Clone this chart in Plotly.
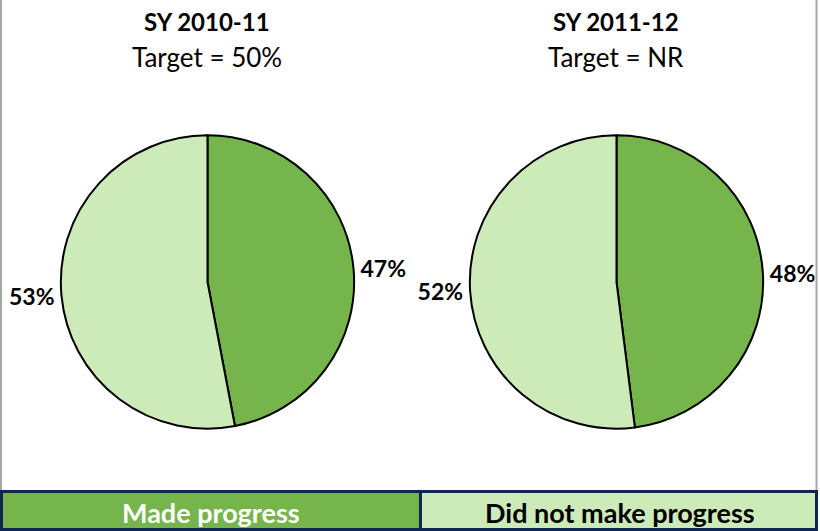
import plotly.graph_objects as go

# Share of students by progress status, per school year
years = ["SY 2010-11", "SY 2011-12"]
targets = ["Target = 50%", "Target = NR"]
categories = ["Made progress", "Did not make progress"]
made_progress = [47, 48]
not_made_progress = [53, 52]

dark_green = "#76B54C"
light_green = "#CCEBB8"
navy = "#0F2552"
frame_gray = "#A6A6A6"
font_family = "Lato, 'Open Sans', sans-serif"

W, H = 820, 531

fig = go.Figure()

centers_x = [208, 618]
radius = 147
center_y = 282

for i, yr in enumerate(years):
    cx = centers_x[i]
    vals = [made_progress[i], not_made_progress[i]]
    fig.add_trace(go.Pie(
        labels=categories,
        values=vals,
        sort=False,
        direction="clockwise",
        rotation=0,
        marker=dict(colors=[dark_green, light_green], line=dict(color="black", width=2)),
        texttemplate="%{value}%",
        textposition="outside",
        textfont=dict(family=font_family, size=23, color="black", weight="bold"),
        hoverinfo="label+value",
        showlegend=False,
        domain=dict(
            x=[(cx - radius) / W, (cx + radius) / W],
            y=[(H - center_y - radius) / H, (H - center_y + radius) / H],
        ),
    ))
    fig.add_annotation(
        x=cx / W, y=1 - 22 / H, xref="paper", yref="paper",
        text=f"<b>{yr}</b>", showarrow=False,
        font=dict(family=font_family, size=24, color="black"),
        xanchor="center", yanchor="middle",
    )
    fig.add_annotation(
        x=cx / W, y=1 - 57 / H, xref="paper", yref="paper",
        text=targets[i], showarrow=False,
        font=dict(family=font_family, size=26, color="black"),
        xanchor="center", yanchor="middle",
    )

legend_top = 491.5
divider_x = 421.5
shapes = [
    # side rules of the chart area
    dict(type="line", xref="paper", yref="paper", x0=1 / W, x1=1 / W,
         y0=1 - legend_top / H, y1=1, line=dict(color=frame_gray, width=2)),
    dict(type="line", xref="paper", yref="paper", x0=1 - 1.5 / W, x1=1 - 1.5 / W,
         y0=1 - legend_top / H, y1=1, line=dict(color=frame_gray, width=2)),
    # legend boxes
    dict(type="rect", xref="paper", yref="paper", x0=1.5 / W, x1=divider_x / W,
         y0=1.5 / H, y1=1 - legend_top / H, fillcolor=dark_green,
         line=dict(color=navy, width=3)),
    dict(type="rect", xref="paper", yref="paper", x0=divider_x / W, x1=1 - 1.5 / W,
         y0=1.5 / H, y1=1 - legend_top / H, fillcolor=light_green,
         line=dict(color=navy, width=3)),
]
fig.update_layout(shapes=shapes)

fig.add_annotation(x=212 / W, y=1 - 512 / H, xref="paper", yref="paper",
                   text=f"<b>{categories[0]}</b>", showarrow=False,
                   xanchor="center", yanchor="middle",
                   font=dict(family=font_family, size=27, color="white"))
fig.add_annotation(x=622 / W, y=1 - 512 / H, xref="paper", yref="paper",
                   text=f"<b>{categories[1]}</b>", showarrow=False,
                   xanchor="center", yanchor="middle",
                   font=dict(family=font_family, size=27, color="black"))

fig.update_layout(
    width=W, height=H,
    margin=dict(l=0, r=0, t=0, b=0),
    paper_bgcolor="white",
    plot_bgcolor="white",
)

fig.write_html("out.html")
